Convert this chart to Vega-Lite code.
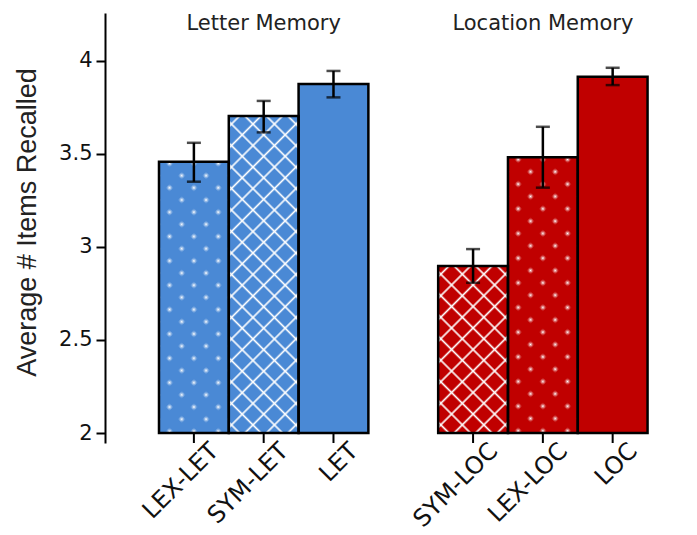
{
  "$schema": "https://vega.github.io/schema/vega-lite/v6.json",
  "width": 592,
  "height": 430,
  "autosize": "none",
  "padding": {"left": 105, "top": 13, "right": 0, "bottom": 92},
  "background": "white",
  "config": {"view": {"stroke": null}, "font": "DejaVu Sans"},
  "data": {"values": [
    {"cond": "LEX-LET", "grp": "Letter Memory", "mean": 3.457, "lo": 3.350, "hi": 3.559},
    {"cond": "SYM-LET", "grp": "Letter Memory", "mean": 3.703, "lo": 3.615, "hi": 3.784},
    {"cond": "LET", "grp": "Letter Memory", "mean": 3.875, "lo": 3.803, "hi": 3.945},
    {"cond": "SYM-LOC", "grp": "Location Memory", "mean": 2.897, "lo": 2.807, "hi": 2.988},
    {"cond": "LEX-LOC", "grp": "Location Memory", "mean": 3.481, "lo": 3.318, "hi": 3.645},
    {"cond": "LOC", "grp": "Location Memory", "mean": 3.914, "lo": 3.869, "hi": 3.962}
  ]},
  "encoding": {
    "x": {
      "field": "cond", "type": "nominal",
      "scale": {"domain": ["LEX-LET", "SYM-LET", "LET", " ", "SYM-LOC", "LEX-LOC", "LOC"], "paddingInner": 0, "paddingOuter": 0.741, "align": 0.522},
      "axis": {"title": null, "domain": false, "ticks": false, "labelAngle": -45, "labelAlign": "right", "labelBaseline": "middle", "labelFontSize": 24, "labelFont": "DejaVu Sans", "labelColor": "#111", "labelPadding": 4, "labelOffset": 21, "labelOverlap": false, "labelBound": false}
    }
  },
  "layer": [
    {
      "mark": {"type": "bar"},
      "encoding": {
        "y": {"field": "mean", "type": "quantitative", "title": "Average # Items Recalled",
          "scale": {"domain": [1.9463, 4.2563], "nice": false, "zero": false},
          "axis": {"values": [2, 2.5, 3, 3.5, 4], "format": "~g", "grid": false, "domainColor": "black", "domainWidth": 2, "tickColor": "black", "tickWidth": 2, "tickSize": 9, "labelFontSize": 21, "labelFont": "DejaVu Sans", "labelColor": "#111", "labelPadding": 4, "titleFont": "Liberation Sans", "titleFontSize": 27, "titleFontWeight": "normal", "titleColor": "#222", "titleX": -78, "titleY": 209, "titleAngle": 270, "titleAlign": "center", "titleBaseline": "middle"}},
        "y2": {"datum": 2},
        "color": {"field": "grp", "type": "nominal", "scale": {"domain": ["Letter Memory", "Location Memory"], "range": ["#4A89D5", "#C00000"]}, "legend": null}
      }
    },
    {
      "transform": [{"filter": "datum.cond === 'SYM-LET'"}],
      "mark": {"type": "bar", "fill": {"gradient": "linear", "x1": 0, "y1": 0, "x2": 0.25625, "y2": 1.16377, "stops": [
        {"offset": 0.0218, "color": "rgba(255,255,255,0)"}, {"offset": 0.0278, "color": "white"}, {"offset": 0.0338, "color": "rgba(255,255,255,0)"},
        {"offset": 0.0773, "color": "rgba(255,255,255,0)"}, {"offset": 0.0833, "color": "white"}, {"offset": 0.0893, "color": "rgba(255,255,255,0)"},
        {"offset": 0.1329, "color": "rgba(255,255,255,0)"}, {"offset": 0.1389, "color": "white"}, {"offset": 0.1449, "color": "rgba(255,255,255,0)"},
        {"offset": 0.1884, "color": "rgba(255,255,255,0)"}, {"offset": 0.1944, "color": "white"}, {"offset": 0.2004, "color": "rgba(255,255,255,0)"},
        {"offset": 0.2440, "color": "rgba(255,255,255,0)"}, {"offset": 0.2500, "color": "white"}, {"offset": 0.2560, "color": "rgba(255,255,255,0)"},
        {"offset": 0.2996, "color": "rgba(255,255,255,0)"}, {"offset": 0.3056, "color": "white"}, {"offset": 0.3116, "color": "rgba(255,255,255,0)"},
        {"offset": 0.3551, "color": "rgba(255,255,255,0)"}, {"offset": 0.3611, "color": "white"}, {"offset": 0.3671, "color": "rgba(255,255,255,0)"},
        {"offset": 0.4107, "color": "rgba(255,255,255,0)"}, {"offset": 0.4167, "color": "white"}, {"offset": 0.4227, "color": "rgba(255,255,255,0)"},
        {"offset": 0.4662, "color": "rgba(255,255,255,0)"}, {"offset": 0.4722, "color": "white"}, {"offset": 0.4782, "color": "rgba(255,255,255,0)"},
        {"offset": 0.5218, "color": "rgba(255,255,255,0)"}, {"offset": 0.5278, "color": "white"}, {"offset": 0.5338, "color": "rgba(255,255,255,0)"},
        {"offset": 0.5773, "color": "rgba(255,255,255,0)"}, {"offset": 0.5833, "color": "white"}, {"offset": 0.5893, "color": "rgba(255,255,255,0)"},
        {"offset": 0.6329, "color": "rgba(255,255,255,0)"}, {"offset": 0.6389, "color": "white"}, {"offset": 0.6449, "color": "rgba(255,255,255,0)"},
        {"offset": 0.6884, "color": "rgba(255,255,255,0)"}, {"offset": 0.6944, "color": "white"}, {"offset": 0.7004, "color": "rgba(255,255,255,0)"},
        {"offset": 0.7440, "color": "rgba(255,255,255,0)"}, {"offset": 0.7500, "color": "white"}, {"offset": 0.7560, "color": "rgba(255,255,255,0)"},
        {"offset": 0.7996, "color": "rgba(255,255,255,0)"}, {"offset": 0.8056, "color": "white"}, {"offset": 0.8116, "color": "rgba(255,255,255,0)"},
        {"offset": 0.8551, "color": "rgba(255,255,255,0)"}, {"offset": 0.8611, "color": "white"}, {"offset": 0.8671, "color": "rgba(255,255,255,0)"},
        {"offset": 0.9107, "color": "rgba(255,255,255,0)"}, {"offset": 0.9167, "color": "white"}, {"offset": 0.9227, "color": "rgba(255,255,255,0)"},
        {"offset": 0.9662, "color": "rgba(255,255,255,0)"}, {"offset": 0.9722, "color": "white"}, {"offset": 0.9782, "color": "rgba(255,255,255,0)"}
      ]}},
      "encoding": {"y": {"field": "mean", "type": "quantitative", "title": "Average # Items Recalled", "scale": {"domain": [1.9463, 4.2563], "nice": false, "zero": false}}, "y2": {"datum": 2}}
    },
    {
      "transform": [{"filter": "datum.cond === 'SYM-LET'"}],
      "mark": {"type": "bar", "fill": {"gradient": "linear", "x1": 1, "y1": 0, "x2": 0.74375, "y2": 1.16377, "stops": [
        {"offset": 0.0218, "color": "rgba(255,255,255,0)"}, {"offset": 0.0278, "color": "white"}, {"offset": 0.0338, "color": "rgba(255,255,255,0)"},
        {"offset": 0.0773, "color": "rgba(255,255,255,0)"}, {"offset": 0.0833, "color": "white"}, {"offset": 0.0893, "color": "rgba(255,255,255,0)"},
        {"offset": 0.1329, "color": "rgba(255,255,255,0)"}, {"offset": 0.1389, "color": "white"}, {"offset": 0.1449, "color": "rgba(255,255,255,0)"},
        {"offset": 0.1884, "color": "rgba(255,255,255,0)"}, {"offset": 0.1944, "color": "white"}, {"offset": 0.2004, "color": "rgba(255,255,255,0)"},
        {"offset": 0.2440, "color": "rgba(255,255,255,0)"}, {"offset": 0.2500, "color": "white"}, {"offset": 0.2560, "color": "rgba(255,255,255,0)"},
        {"offset": 0.2996, "color": "rgba(255,255,255,0)"}, {"offset": 0.3056, "color": "white"}, {"offset": 0.3116, "color": "rgba(255,255,255,0)"},
        {"offset": 0.3551, "color": "rgba(255,255,255,0)"}, {"offset": 0.3611, "color": "white"}, {"offset": 0.3671, "color": "rgba(255,255,255,0)"},
        {"offset": 0.4107, "color": "rgba(255,255,255,0)"}, {"offset": 0.4167, "color": "white"}, {"offset": 0.4227, "color": "rgba(255,255,255,0)"},
        {"offset": 0.4662, "color": "rgba(255,255,255,0)"}, {"offset": 0.4722, "color": "white"}, {"offset": 0.4782, "color": "rgba(255,255,255,0)"},
        {"offset": 0.5218, "color": "rgba(255,255,255,0)"}, {"offset": 0.5278, "color": "white"}, {"offset": 0.5338, "color": "rgba(255,255,255,0)"},
        {"offset": 0.5773, "color": "rgba(255,255,255,0)"}, {"offset": 0.5833, "color": "white"}, {"offset": 0.5893, "color": "rgba(255,255,255,0)"},
        {"offset": 0.6329, "color": "rgba(255,255,255,0)"}, {"offset": 0.6389, "color": "white"}, {"offset": 0.6449, "color": "rgba(255,255,255,0)"},
        {"offset": 0.6884, "color": "rgba(255,255,255,0)"}, {"offset": 0.6944, "color": "white"}, {"offset": 0.7004, "color": "rgba(255,255,255,0)"},
        {"offset": 0.7440, "color": "rgba(255,255,255,0)"}, {"offset": 0.7500, "color": "white"}, {"offset": 0.7560, "color": "rgba(255,255,255,0)"},
        {"offset": 0.7996, "color": "rgba(255,255,255,0)"}, {"offset": 0.8056, "color": "white"}, {"offset": 0.8116, "color": "rgba(255,255,255,0)"},
        {"offset": 0.8551, "color": "rgba(255,255,255,0)"}, {"offset": 0.8611, "color": "white"}, {"offset": 0.8671, "color": "rgba(255,255,255,0)"},
        {"offset": 0.9107, "color": "rgba(255,255,255,0)"}, {"offset": 0.9167, "color": "white"}, {"offset": 0.9227, "color": "rgba(255,255,255,0)"},
        {"offset": 0.9662, "color": "rgba(255,255,255,0)"}, {"offset": 0.9722, "color": "white"}, {"offset": 0.9782, "color": "rgba(255,255,255,0)"}
      ]}},
      "encoding": {"y": {"field": "mean", "type": "quantitative", "title": "Average # Items Recalled", "scale": {"domain": [1.9463, 4.2563], "nice": false, "zero": false}}, "y2": {"datum": 2}}
    },
    {
      "transform": [{"filter": "datum.cond === 'SYM-LOC'"}],
      "mark": {"type": "bar", "fill": {"gradient": "linear", "x1": 0, "y1": 0, "x2": 0.50458, "y2": 1.20709, "stops": [
        {"offset": 0.0355, "color": "rgba(255,255,255,0)"}, {"offset": 0.0455, "color": "white"}, {"offset": 0.0555, "color": "rgba(255,255,255,0)"},
        {"offset": 0.1264, "color": "rgba(255,255,255,0)"}, {"offset": 0.1364, "color": "white"}, {"offset": 0.1464, "color": "rgba(255,255,255,0)"},
        {"offset": 0.2173, "color": "rgba(255,255,255,0)"}, {"offset": 0.2273, "color": "white"}, {"offset": 0.2373, "color": "rgba(255,255,255,0)"},
        {"offset": 0.3082, "color": "rgba(255,255,255,0)"}, {"offset": 0.3182, "color": "white"}, {"offset": 0.3282, "color": "rgba(255,255,255,0)"},
        {"offset": 0.3991, "color": "rgba(255,255,255,0)"}, {"offset": 0.4091, "color": "white"}, {"offset": 0.4191, "color": "rgba(255,255,255,0)"},
        {"offset": 0.4900, "color": "rgba(255,255,255,0)"}, {"offset": 0.5000, "color": "white"}, {"offset": 0.5100, "color": "rgba(255,255,255,0)"},
        {"offset": 0.5809, "color": "rgba(255,255,255,0)"}, {"offset": 0.5909, "color": "white"}, {"offset": 0.6009, "color": "rgba(255,255,255,0)"},
        {"offset": 0.6718, "color": "rgba(255,255,255,0)"}, {"offset": 0.6818, "color": "white"}, {"offset": 0.6918, "color": "rgba(255,255,255,0)"},
        {"offset": 0.7627, "color": "rgba(255,255,255,0)"}, {"offset": 0.7727, "color": "white"}, {"offset": 0.7827, "color": "rgba(255,255,255,0)"},
        {"offset": 0.8536, "color": "rgba(255,255,255,0)"}, {"offset": 0.8636, "color": "white"}, {"offset": 0.8736, "color": "rgba(255,255,255,0)"},
        {"offset": 0.9445, "color": "rgba(255,255,255,0)"}, {"offset": 0.9545, "color": "white"}, {"offset": 0.9645, "color": "rgba(255,255,255,0)"}
      ]}},
      "encoding": {"y": {"field": "mean", "type": "quantitative", "title": "Average # Items Recalled", "scale": {"domain": [1.9463, 4.2563], "nice": false, "zero": false}}, "y2": {"datum": 2}}
    },
    {
      "transform": [{"filter": "datum.cond === 'SYM-LOC'"}],
      "mark": {"type": "bar", "fill": {"gradient": "linear", "x1": 1, "y1": 0, "x2": 0.49542, "y2": 1.20709, "stops": [
        {"offset": 0.0355, "color": "rgba(255,255,255,0)"}, {"offset": 0.0455, "color": "white"}, {"offset": 0.0555, "color": "rgba(255,255,255,0)"},
        {"offset": 0.1264, "color": "rgba(255,255,255,0)"}, {"offset": 0.1364, "color": "white"}, {"offset": 0.1464, "color": "rgba(255,255,255,0)"},
        {"offset": 0.2173, "color": "rgba(255,255,255,0)"}, {"offset": 0.2273, "color": "white"}, {"offset": 0.2373, "color": "rgba(255,255,255,0)"},
        {"offset": 0.3082, "color": "rgba(255,255,255,0)"}, {"offset": 0.3182, "color": "white"}, {"offset": 0.3282, "color": "rgba(255,255,255,0)"},
        {"offset": 0.3991, "color": "rgba(255,255,255,0)"}, {"offset": 0.4091, "color": "white"}, {"offset": 0.4191, "color": "rgba(255,255,255,0)"},
        {"offset": 0.4900, "color": "rgba(255,255,255,0)"}, {"offset": 0.5000, "color": "white"}, {"offset": 0.5100, "color": "rgba(255,255,255,0)"},
        {"offset": 0.5809, "color": "rgba(255,255,255,0)"}, {"offset": 0.5909, "color": "white"}, {"offset": 0.6009, "color": "rgba(255,255,255,0)"},
        {"offset": 0.6718, "color": "rgba(255,255,255,0)"}, {"offset": 0.6818, "color": "white"}, {"offset": 0.6918, "color": "rgba(255,255,255,0)"},
        {"offset": 0.7627, "color": "rgba(255,255,255,0)"}, {"offset": 0.7727, "color": "white"}, {"offset": 0.7827, "color": "rgba(255,255,255,0)"},
        {"offset": 0.8536, "color": "rgba(255,255,255,0)"}, {"offset": 0.8636, "color": "white"}, {"offset": 0.8736, "color": "rgba(255,255,255,0)"},
        {"offset": 0.9445, "color": "rgba(255,255,255,0)"}, {"offset": 0.9545, "color": "white"}, {"offset": 0.9645, "color": "rgba(255,255,255,0)"}
      ]}},
      "encoding": {"y": {"field": "mean", "type": "quantitative", "title": "Average # Items Recalled", "scale": {"domain": [1.9463, 4.2563], "nice": false, "zero": false}}, "y2": {"datum": 2}}
    },
    {
      "transform": [{"filter": "datum.cond === 'LEX-LET'"}],
      "mark": {"type": "bar", "fill": {"gradient": "linear", "x1": 0, "y1": 0, "x2": 0.30349, "y2": 1.17927, "stops": [
        {"offset": 0.0227, "color": "rgba(255,255,255,0)"}, {"offset": 0.0357, "color": "white"}, {"offset": 0.0487, "color": "rgba(255,255,255,0)"},
        {"offset": 0.0941, "color": "rgba(255,255,255,0)"}, {"offset": 0.1071, "color": "white"}, {"offset": 0.1201, "color": "rgba(255,255,255,0)"},
        {"offset": 0.1656, "color": "rgba(255,255,255,0)"}, {"offset": 0.1786, "color": "white"}, {"offset": 0.1916, "color": "rgba(255,255,255,0)"},
        {"offset": 0.2370, "color": "rgba(255,255,255,0)"}, {"offset": 0.2500, "color": "white"}, {"offset": 0.2630, "color": "rgba(255,255,255,0)"},
        {"offset": 0.3084, "color": "rgba(255,255,255,0)"}, {"offset": 0.3214, "color": "white"}, {"offset": 0.3344, "color": "rgba(255,255,255,0)"},
        {"offset": 0.3799, "color": "rgba(255,255,255,0)"}, {"offset": 0.3929, "color": "white"}, {"offset": 0.4059, "color": "rgba(255,255,255,0)"},
        {"offset": 0.4513, "color": "rgba(255,255,255,0)"}, {"offset": 0.4643, "color": "white"}, {"offset": 0.4773, "color": "rgba(255,255,255,0)"},
        {"offset": 0.5227, "color": "rgba(255,255,255,0)"}, {"offset": 0.5357, "color": "white"}, {"offset": 0.5487, "color": "rgba(255,255,255,0)"},
        {"offset": 0.5941, "color": "rgba(255,255,255,0)"}, {"offset": 0.6071, "color": "white"}, {"offset": 0.6201, "color": "rgba(255,255,255,0)"},
        {"offset": 0.6656, "color": "rgba(255,255,255,0)"}, {"offset": 0.6786, "color": "white"}, {"offset": 0.6916, "color": "rgba(255,255,255,0)"},
        {"offset": 0.7370, "color": "rgba(255,255,255,0)"}, {"offset": 0.7500, "color": "white"}, {"offset": 0.7630, "color": "rgba(255,255,255,0)"},
        {"offset": 0.8084, "color": "rgba(255,255,255,0)"}, {"offset": 0.8214, "color": "white"}, {"offset": 0.8344, "color": "rgba(255,255,255,0)"},
        {"offset": 0.8799, "color": "rgba(255,255,255,0)"}, {"offset": 0.8929, "color": "white"}, {"offset": 0.9059, "color": "rgba(255,255,255,0)"},
        {"offset": 0.9513, "color": "rgba(255,255,255,0)"}, {"offset": 0.9643, "color": "white"}, {"offset": 0.9773, "color": "rgba(255,255,255,0)"}
      ]}},
      "encoding": {"y": {"field": "mean", "type": "quantitative", "title": "Average # Items Recalled", "scale": {"domain": [1.9463, 4.2563], "nice": false, "zero": false}}, "y2": {"datum": 2}}
    },
    {
      "transform": [{"filter": "datum.cond === 'LEX-LET'"}],
      "mark": {"type": "bar", "fill": {"gradient": "linear", "x1": 1, "y1": 0, "x2": 0.69651, "y2": 1.17927, "stops": [
        {"offset": 0.0227, "color": "#4A89D5"}, {"offset": 0.0357, "color": "rgba(74,137,213,0)"}, {"offset": 0.0487, "color": "#4A89D5"},
        {"offset": 0.0941, "color": "#4A89D5"}, {"offset": 0.1071, "color": "rgba(74,137,213,0)"}, {"offset": 0.1201, "color": "#4A89D5"},
        {"offset": 0.1656, "color": "#4A89D5"}, {"offset": 0.1786, "color": "rgba(74,137,213,0)"}, {"offset": 0.1916, "color": "#4A89D5"},
        {"offset": 0.2370, "color": "#4A89D5"}, {"offset": 0.2500, "color": "rgba(74,137,213,0)"}, {"offset": 0.2630, "color": "#4A89D5"},
        {"offset": 0.3084, "color": "#4A89D5"}, {"offset": 0.3214, "color": "rgba(74,137,213,0)"}, {"offset": 0.3344, "color": "#4A89D5"},
        {"offset": 0.3799, "color": "#4A89D5"}, {"offset": 0.3929, "color": "rgba(74,137,213,0)"}, {"offset": 0.4059, "color": "#4A89D5"},
        {"offset": 0.4513, "color": "#4A89D5"}, {"offset": 0.4643, "color": "rgba(74,137,213,0)"}, {"offset": 0.4773, "color": "#4A89D5"},
        {"offset": 0.5227, "color": "#4A89D5"}, {"offset": 0.5357, "color": "rgba(74,137,213,0)"}, {"offset": 0.5487, "color": "#4A89D5"},
        {"offset": 0.5941, "color": "#4A89D5"}, {"offset": 0.6071, "color": "rgba(74,137,213,0)"}, {"offset": 0.6201, "color": "#4A89D5"},
        {"offset": 0.6656, "color": "#4A89D5"}, {"offset": 0.6786, "color": "rgba(74,137,213,0)"}, {"offset": 0.6916, "color": "#4A89D5"},
        {"offset": 0.7370, "color": "#4A89D5"}, {"offset": 0.7500, "color": "rgba(74,137,213,0)"}, {"offset": 0.7630, "color": "#4A89D5"},
        {"offset": 0.8084, "color": "#4A89D5"}, {"offset": 0.8214, "color": "rgba(74,137,213,0)"}, {"offset": 0.8344, "color": "#4A89D5"},
        {"offset": 0.8799, "color": "#4A89D5"}, {"offset": 0.8929, "color": "rgba(74,137,213,0)"}, {"offset": 0.9059, "color": "#4A89D5"},
        {"offset": 0.9513, "color": "#4A89D5"}, {"offset": 0.9643, "color": "rgba(74,137,213,0)"}, {"offset": 0.9773, "color": "#4A89D5"}
      ]}},
      "encoding": {"y": {"field": "mean", "type": "quantitative", "title": "Average # Items Recalled", "scale": {"domain": [1.9463, 4.2563], "nice": false, "zero": false}}, "y2": {"datum": 2}}
    },
    {
      "transform": [{"filter": "datum.cond === 'LEX-LOC'"}],
      "mark": {"type": "bar", "fill": {"gradient": "linear", "x1": 0, "y1": 0, "x2": 0.29817, "y2": 1.17771, "stops": [
        {"offset": 0.0227, "color": "rgba(255,255,255,0)"}, {"offset": 0.0357, "color": "white"}, {"offset": 0.0487, "color": "rgba(255,255,255,0)"},
        {"offset": 0.0941, "color": "rgba(255,255,255,0)"}, {"offset": 0.1071, "color": "white"}, {"offset": 0.1201, "color": "rgba(255,255,255,0)"},
        {"offset": 0.1656, "color": "rgba(255,255,255,0)"}, {"offset": 0.1786, "color": "white"}, {"offset": 0.1916, "color": "rgba(255,255,255,0)"},
        {"offset": 0.2370, "color": "rgba(255,255,255,0)"}, {"offset": 0.2500, "color": "white"}, {"offset": 0.2630, "color": "rgba(255,255,255,0)"},
        {"offset": 0.3084, "color": "rgba(255,255,255,0)"}, {"offset": 0.3214, "color": "white"}, {"offset": 0.3344, "color": "rgba(255,255,255,0)"},
        {"offset": 0.3799, "color": "rgba(255,255,255,0)"}, {"offset": 0.3929, "color": "white"}, {"offset": 0.4059, "color": "rgba(255,255,255,0)"},
        {"offset": 0.4513, "color": "rgba(255,255,255,0)"}, {"offset": 0.4643, "color": "white"}, {"offset": 0.4773, "color": "rgba(255,255,255,0)"},
        {"offset": 0.5227, "color": "rgba(255,255,255,0)"}, {"offset": 0.5357, "color": "white"}, {"offset": 0.5487, "color": "rgba(255,255,255,0)"},
        {"offset": 0.5941, "color": "rgba(255,255,255,0)"}, {"offset": 0.6071, "color": "white"}, {"offset": 0.6201, "color": "rgba(255,255,255,0)"},
        {"offset": 0.6656, "color": "rgba(255,255,255,0)"}, {"offset": 0.6786, "color": "white"}, {"offset": 0.6916, "color": "rgba(255,255,255,0)"},
        {"offset": 0.7370, "color": "rgba(255,255,255,0)"}, {"offset": 0.7500, "color": "white"}, {"offset": 0.7630, "color": "rgba(255,255,255,0)"},
        {"offset": 0.8084, "color": "rgba(255,255,255,0)"}, {"offset": 0.8214, "color": "white"}, {"offset": 0.8344, "color": "rgba(255,255,255,0)"},
        {"offset": 0.8799, "color": "rgba(255,255,255,0)"}, {"offset": 0.8929, "color": "white"}, {"offset": 0.9059, "color": "rgba(255,255,255,0)"},
        {"offset": 0.9513, "color": "rgba(255,255,255,0)"}, {"offset": 0.9643, "color": "white"}, {"offset": 0.9773, "color": "rgba(255,255,255,0)"}
      ]}},
      "encoding": {"y": {"field": "mean", "type": "quantitative", "title": "Average # Items Recalled", "scale": {"domain": [1.9463, 4.2563], "nice": false, "zero": false}}, "y2": {"datum": 2}}
    },
    {
      "transform": [{"filter": "datum.cond === 'LEX-LOC'"}],
      "mark": {"type": "bar", "fill": {"gradient": "linear", "x1": 1, "y1": 0, "x2": 0.70183, "y2": 1.17771, "stops": [
        {"offset": 0.0227, "color": "#C00000"}, {"offset": 0.0357, "color": "rgba(192,0,0,0)"}, {"offset": 0.0487, "color": "#C00000"},
        {"offset": 0.0941, "color": "#C00000"}, {"offset": 0.1071, "color": "rgba(192,0,0,0)"}, {"offset": 0.1201, "color": "#C00000"},
        {"offset": 0.1656, "color": "#C00000"}, {"offset": 0.1786, "color": "rgba(192,0,0,0)"}, {"offset": 0.1916, "color": "#C00000"},
        {"offset": 0.2370, "color": "#C00000"}, {"offset": 0.2500, "color": "rgba(192,0,0,0)"}, {"offset": 0.2630, "color": "#C00000"},
        {"offset": 0.3084, "color": "#C00000"}, {"offset": 0.3214, "color": "rgba(192,0,0,0)"}, {"offset": 0.3344, "color": "#C00000"},
        {"offset": 0.3799, "color": "#C00000"}, {"offset": 0.3929, "color": "rgba(192,0,0,0)"}, {"offset": 0.4059, "color": "#C00000"},
        {"offset": 0.4513, "color": "#C00000"}, {"offset": 0.4643, "color": "rgba(192,0,0,0)"}, {"offset": 0.4773, "color": "#C00000"},
        {"offset": 0.5227, "color": "#C00000"}, {"offset": 0.5357, "color": "rgba(192,0,0,0)"}, {"offset": 0.5487, "color": "#C00000"},
        {"offset": 0.5941, "color": "#C00000"}, {"offset": 0.6071, "color": "rgba(192,0,0,0)"}, {"offset": 0.6201, "color": "#C00000"},
        {"offset": 0.6656, "color": "#C00000"}, {"offset": 0.6786, "color": "rgba(192,0,0,0)"}, {"offset": 0.6916, "color": "#C00000"},
        {"offset": 0.7370, "color": "#C00000"}, {"offset": 0.7500, "color": "rgba(192,0,0,0)"}, {"offset": 0.7630, "color": "#C00000"},
        {"offset": 0.8084, "color": "#C00000"}, {"offset": 0.8214, "color": "rgba(192,0,0,0)"}, {"offset": 0.8344, "color": "#C00000"},
        {"offset": 0.8799, "color": "#C00000"}, {"offset": 0.8929, "color": "rgba(192,0,0,0)"}, {"offset": 0.9059, "color": "#C00000"},
        {"offset": 0.9513, "color": "#C00000"}, {"offset": 0.9643, "color": "rgba(192,0,0,0)"}, {"offset": 0.9773, "color": "#C00000"}
      ]}},
      "encoding": {"y": {"field": "mean", "type": "quantitative", "title": "Average # Items Recalled", "scale": {"domain": [1.9463, 4.2563], "nice": false, "zero": false}}, "y2": {"datum": 2}}
    },
    {
      "mark": {"type": "bar", "filled": false, "stroke": "black", "strokeWidth": 2.5},
      "encoding": {"y": {"field": "mean", "type": "quantitative", "title": "Average # Items Recalled", "scale": {"domain": [1.9463, 4.2563], "nice": false, "zero": false}}, "y2": {"datum": 2}}
    },
    {
      "mark": {"type": "errorbar", "color": "black", "rule": {"strokeWidth": 2.5, "color": "black"}, "ticks": {"size": 14, "thickness": 2.5, "color": "black"}},
      "encoding": {"y": {"field": "lo", "type": "quantitative", "title": "Average # Items Recalled", "scale": {"domain": [1.9463, 4.2563], "nice": false, "zero": false}}, "y2": {"field": "hi"}}
    },
    {
      "mark": {"type": "rule", "color": "black", "strokeWidth": 2},
      "encoding": {"y": {"datum": 2, "type": "quantitative", "scale": {"domain": [1.9463, 4.2563], "nice": false, "zero": false}}}
    },
    {
      "data": {"values": [
        {"title": "Letter Memory", "over": "SYM-LET"},
        {"title": "Location Memory", "over": "LEX-LOC"}
      ]},
      "mark": {"type": "text", "font": "DejaVu Sans", "fontSize": 21, "color": "#222", "align": "center", "baseline": "alphabetic"},
      "encoding": {
        "x": {"field": "over", "type": "nominal", "scale": {"domain": ["LEX-LET", "SYM-LET", "LET", " ", "SYM-LOC", "LEX-LOC", "LOC"], "paddingInner": 0, "paddingOuter": 0.741, "align": 0.522}},
        "y": {"datum": 4.165, "type": "quantitative", "scale": {"domain": [1.9463, 4.2563], "nice": false, "zero": false}},
        "text": {"field": "title"}
      }
    }
  ]
}
